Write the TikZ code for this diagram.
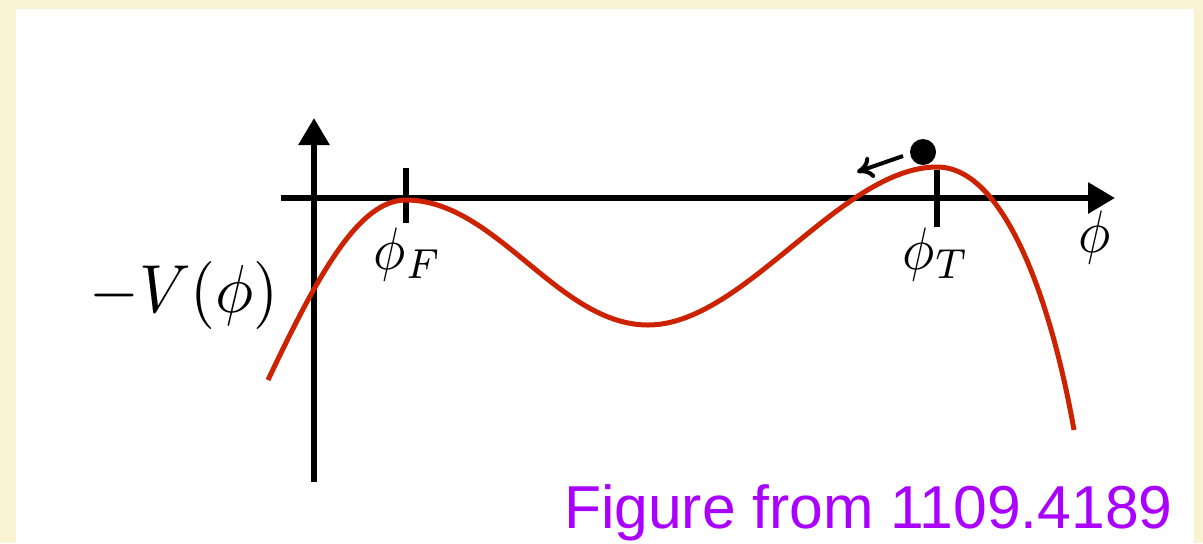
\documentclass[tikz,border=0pt]{standalone}
\usepackage{fontspec}
\newfontfamily\notefont{Liberation Sans}
\usetikzlibrary{arrows.meta}
\definecolor{paper}{RGB}{250,243,210}
\definecolor{potred}{RGB}{204,34,0}
\definecolor{notepurple}{RGB}{170,0,255}

\begin{document}
\begin{tikzpicture}[x=0.5pt,y=-0.5pt,
    axisline/.style={line width=3pt,-{Triangle[length=13.5pt,width=15pt]}},
    tickmark/.style={line width=3pt},
    axlabel/.style={inner sep=0pt,xscale=2.7,yscale=3}]
    % Frame
    \fill[paper] (0,0) rectangle (1203,543);
    \fill[white] (16,9) rectangle (1194,543);
    % Axes
    \coordinate (vbot) at (314,482);
    \coordinate (vtop) at (314,118);
    \coordinate (hleft) at (281,198);
    \coordinate (hright) at (1115,198);
    \draw[axisline] (vbot) -- (vtop);
    \draw[axisline] (hleft) -- (hright);
    \node[axlabel] (phi) at (1095,237) {$\phi$};
    \node[inner sep=0pt,xscale=3.2,yscale=3.4] (pot) at (184,295) {$-V(\phi)$};
    % Ticks
    \draw[tickmark] (406,168) -- (406,223);
    \draw[tickmark] (937,170) -- (937,227);
    \node[axlabel] (phiF) at (408,254) {$\phi_F$};
    \node[axlabel] (phiT) at (936,254) {$\phi_T$};
    % Potential
    \draw[potred,line width=2.5pt] (268,380) .. controls (320,270) and (360,200) .. (406,200)
        .. controls (496,200) and (558,325) .. (648,325)
        .. controls (744,325) and (841,167) .. (937,167)
        .. controls (1003,167) and (1050,295) .. (1074,430);
    % Ball
    \fill (923,152) circle (13);
    \coordinate (rollA) at (903,156);
    \coordinate (rollB) at (857,172);
    \draw[line width=2pt,-{To[length=8pt,width=11pt]}] (rollA) -- (rollB);
    % Source
    \node[anchor=base east,inner sep=0pt,text=notepurple,font=\notefont\fontsize{30.3}{36}\selectfont] (src) at (1173,528) {Figure from 1109.4189};
\end{tikzpicture}
\end{document}
